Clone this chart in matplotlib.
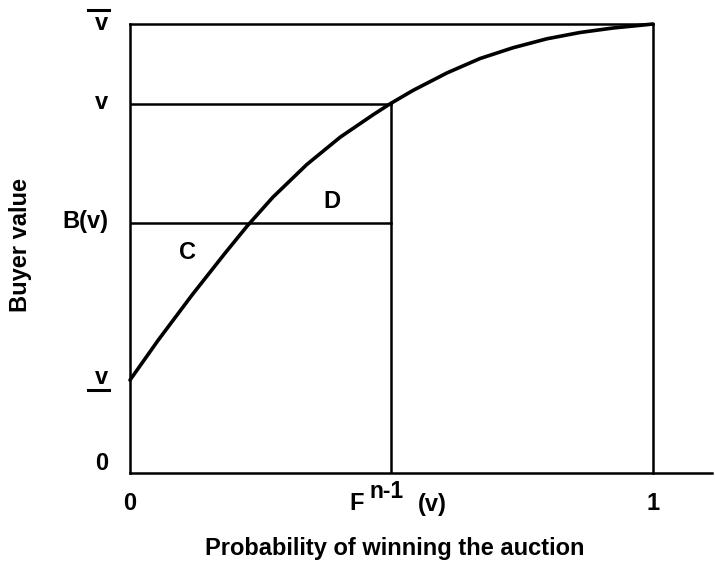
import matplotlib
matplotlib.use("Agg")
import matplotlib.pyplot as plt
import matplotlib.transforms as mtransforms

plt.rcParams['font.family'] = ['Liberation Sans', 'DejaVu Sans']
plt.rcParams['font.weight'] = 'bold'

# ── Data (x = win probability, y = value, 0..1) ──
curve_x = [0.000, 0.054, 0.119, 0.182, 0.224, 0.273, 0.338, 0.402, 0.465, 0.497,
           0.541, 0.606, 0.669, 0.732, 0.797, 0.860, 0.923, 0.975, 1.000]
curve_y = [0.207, 0.296, 0.397, 0.490, 0.550, 0.614, 0.687, 0.748, 0.798, 0.822,
           0.852, 0.891, 0.923, 0.947, 0.967, 0.981, 0.991, 0.997, 1.000]

v_low = 0.207
b_v = 0.557
v_mid = 0.822
v_high = 1.0
f_v = 0.499

ytick_pos = [0, v_low, b_v, v_mid, v_high]
ytick_txt = ["0", "v", "B(v)", "v", "v"]
ytick_dy = [10, 3, 1, 1, 1]          # pixel nudges as in the original

# ── Figure ────────────────────────────────────────────────────────
W, H = 715, 567
fig = plt.figure(figsize=(W/100, H/100), dpi=100)
ax = fig.add_axes([130/W, (H-473)/H, (712-130)/W, 449/H])
ax.set_xlim(0, (712-130)/523)
ax.set_ylim(0, 1)
for s in ['top', 'right']:
    ax.spines[s].set_visible(False)
for s in ['left', 'bottom']:
    ax.spines[s].set_linewidth(1.8)
ax.set_xticks([]); ax.set_yticks([])

lw = 1.8
ax.plot([0, 1], [v_high, v_high], color='k', lw=lw, clip_on=False)
ax.plot([1, 1], [0, v_high], color='k', lw=lw, clip_on=False)
ax.plot([0, f_v], [v_mid, v_mid], color='k', lw=lw)
ax.plot([f_v, f_v], [0, v_mid], color='k', lw=lw)
ax.plot([0, f_v], [b_v, b_v], color='k', lw=lw)
ax.plot(curve_x, curve_y, color='k', lw=2.6, solid_joinstyle='round',
        solid_capstyle='round', clip_on=False)

fs = 17
ax.text(0.109, 0.492, "C", fontsize=fs, fontweight='bold', ha='center', va='center')
ax.text(0.386, 0.604, "D", fontsize=fs, fontweight='bold', ha='center', va='center')

# y tick labels, left of the axis
ytr = ax.get_yaxis_transform()
for pos, txt, dy in zip(ytick_pos, ytick_txt, ytick_dy):
    ax.annotate(txt, xy=(0, pos), xycoords=ytr, xytext=(-22, dy),
                textcoords='offset pixels', fontsize=fs, fontweight='bold',
                ha='right', va='center', annotation_clip=False)
# bar over v-high and under v-low
bar_x = [-0.072, -0.036]
top_tr = mtransforms.offset_copy(ytr, fig=fig, x=0, y=14, units='dots')
bot_tr = mtransforms.offset_copy(ytr, fig=fig, x=0, y=-10, units='dots')
ax.plot(bar_x, [v_high, v_high], transform=top_tr, color='k', lw=2.2, clip_on=False)
ax.plot(bar_x, [v_low, v_low], transform=bot_tr, color='k', lw=2.2, clip_on=False)

# x tick labels
xtr = ax.get_xaxis_transform()
for pos, txt in [(0, "0"), (1, "1")]:
    ax.annotate(txt, xy=(pos, 0), xycoords=xtr, xytext=(0, -30),
                textcoords='offset pixels', fontsize=fs, fontweight='bold',
                ha='center', va='center', annotation_clip=False)
ax.annotate("F", xy=(f_v, 0), xycoords=xtr, xytext=(-27, -31),
            textcoords='offset pixels', fontsize=fs, fontweight='bold',
            ha='right', va='center', annotation_clip=False)
ax.annotate("n-1", xy=(f_v, 0), xycoords=xtr, xytext=(-21, -18),
            textcoords='offset pixels', fontsize=16.5, fontweight='bold',
            ha='left', va='center', annotation_clip=False)
ax.annotate("(v)", xy=(f_v, 0), xycoords=xtr, xytext=(27, -32),
            textcoords='offset pixels', fontsize=fs, fontweight='bold',
            ha='left', va='center', annotation_clip=False)

fig.text(395/W, 1 - 548/H, "Probability of winning the auction", fontsize=fs,
         fontweight='bold', ha='center', va='center')
fig.text(21/W, 1 - 245/H, "Buyer value", fontsize=fs, fontweight='bold',
         ha='center', va='center', rotation=90)

fig.savefig("out.png", dpi=100)
